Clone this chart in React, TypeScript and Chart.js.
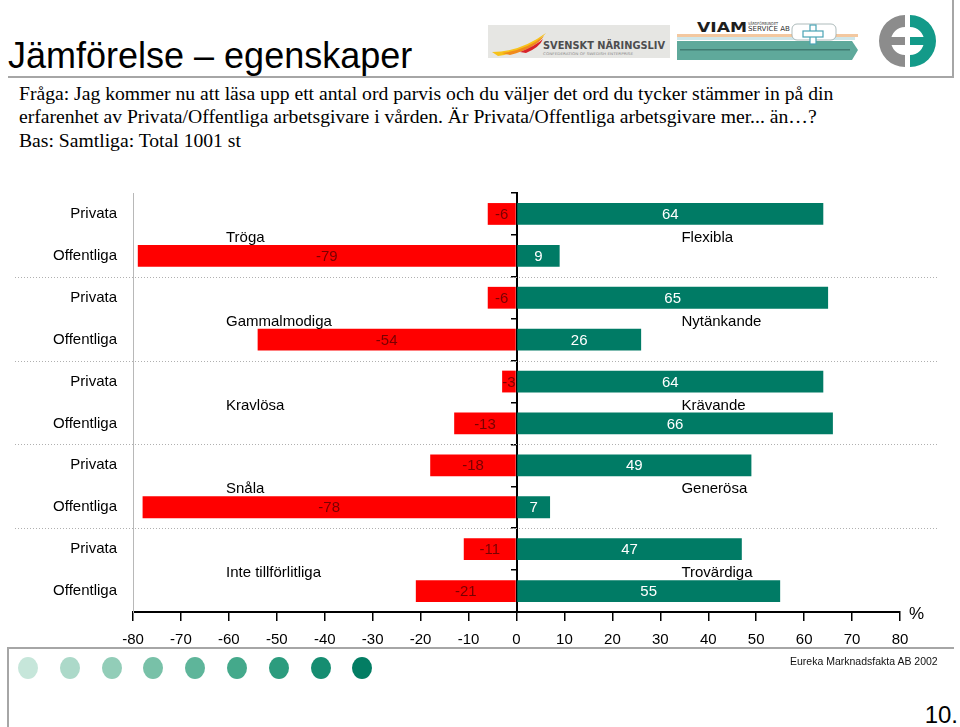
import React, { useEffect, useRef } from "react";
import { Chart, registerables } from "chart.js";

Chart.register(...registerables);

// ---------- data ----------
const categories = [
  "Privata", "Offentliga",
  "Privata", "Offentliga",
  "Privata", "Offentliga",
  "Privata", "Offentliga",
  "Privata", "Offentliga",
];
const negativeValues = [-6, -79, -6, -54, -3, -13, -18, -78, -11, -21];
const positiveValues = [64, 9, 65, 26, 64, 66, 49, 7, 47, 55];
const negativeWords = ["Tröga", "Gammalmodiga", "Kravlösa", "Snåla", "Inte tillförlitliga"];
const positiveWords = ["Flexibla", "Nytänkande", "Krävande", "Generösa", "Trovärdiga"];
const xMin = -80;
const xMax = 80;
const xStep = 10;

const titleText = "Jämförelse – egenskaper";
const questionLines = [
  "Fråga: Jag kommer nu att läsa upp ett antal ord parvis och du väljer det ord du tycker stämmer in på din",
  "erfarenhet av Privata/Offentliga arbetsgivare i vården. Är Privata/Offentliga arbetsgivare mer... än…?",
  "Bas: Samtliga: Total 1001 st",
];
const sourceText = "Eureka Marknadsfakta AB 2002";
const pageNumber = "10.";
const dotColors = ["#c6e6da", "#acd9c9", "#92cdb8", "#78c1a8", "#5eb59a", "#44a98b", "#2c9c7e", "#168d71", "#037d63"];

const RED = "#ff0000";
const GREEN = "#007b65";
const FONT = "'Liberation Sans', Arial, sans-serif";

const overlayPlugin = {
  id: "overlay",
  beforeDatasetsDraw(chart: any) {
    const { ctx } = chart;
    const y = chart.scales.y;
    ctx.save();
    ctx.strokeStyle = "#b0b0b0";
    ctx.lineWidth = 1;
    ctx.setLineDash([1, 2]);
    for (let k = 1; k < negativeWords.length; k++) {
      const py = Math.round((y.getPixelForValue(2 * k - 1) + y.getPixelForValue(2 * k)) / 2) + 0.5;
      ctx.beginPath();
      ctx.moveTo(15, py);
      ctx.lineTo(937, py);
      ctx.stroke();
    }
    ctx.restore();
  },
  afterDatasetsDraw(chart: any) {
    const { ctx } = chart;
    const x = chart.scales.x;
    const y = chart.scales.y;
    ctx.save();
    ctx.font = `15px ${FONT}`;
    ctx.textAlign = "center";
    ctx.textBaseline = "middle";
    chart.data.datasets.forEach((ds: any, di: number) => {
      const meta = chart.getDatasetMeta(di);
      meta.data.forEach((bar: any, i: number) => {
        const p = bar.getProps(["x", "y", "base"], true);
        const v = ds.data[i];
        ctx.fillStyle = v < 0 ? "#7a0000" : "#ffffff";
        ctx.fillText(String(v), (p.x + p.base) / 2, p.y + 1);
      });
    });
    ctx.fillStyle = "#000";
    ctx.textAlign = "left";
    for (let k = 0; k < negativeWords.length; k++) {
      const py = (y.getPixelForValue(2 * k) + y.getPixelForValue(2 * k + 1)) / 2 + 3;
      ctx.fillText(negativeWords[k], x.getPixelForValue(-60.6), py);
      ctx.fillText(positiveWords[k], x.getPixelForValue(34.4), py);
    }
    ctx.restore();
  },
};

function ChartBox() {
  const ref = useRef<HTMLCanvasElement | null>(null);
  useEffect(() => {
    if (!ref.current) return;
    const chart = new Chart(ref.current, {
      type: "bar",
      data: {
        labels: categories,
        datasets: [
          {
            label: "neg",
            data: negativeValues,
            backgroundColor: RED,
            categoryPercentage: 0.52,
            barPercentage: 1,
            stack: "s",
          },
          {
            label: "pos",
            data: positiveValues,
            backgroundColor: GREEN,
            categoryPercentage: 0.52,
            barPercentage: 1,
            stack: "s",
          },
        ],
      },
      options: {
        indexAxis: "y",
        animation: false,
        responsive: true,
        maintainAspectRatio: false,
        layout: { padding: { left: 0, right: 60, top: 13, bottom: 0 } },
        plugins: { legend: { display: false }, tooltip: { enabled: false } },
        scales: {
          x: {
            type: "linear",
            stacked: true,
            min: xMin,
            max: xMax,
            position: "bottom",
            ticks: {
              stepSize: xStep,
              autoSkip: false,
              maxRotation: 0,
              color: "#000",
              padding: 10,
              font: { family: FONT, size: 15 },
            },
            grid: {
              drawOnChartArea: false,
              drawTicks: true,
              tickLength: 9,
              color: "#000",
              lineWidth: 1.5,
            },
            border: { display: true, color: "#000", width: 2 },
            afterFit: (s: any) => {
              s.height = 48;
              s.paddingLeft = 0;
              s.paddingRight = 0;
            },
          },
          y: {
            type: "category",
            stacked: true,
            position: "left",
            offset: true,
            ticks: {
              color: "#000",
              padding: 16,
              font: { family: FONT, size: 15 },
            },
            grid: {
              display: true,
              drawOnChartArea: false,
              drawTicks: false,
              color: "rgba(0,0,0,0)",
              offset: true,
            },
            border: { display: true, color: "#b8b8b8", width: 1, dash: [1, 2] },
            afterFit: (s: any) => {
              s.width = 133;
              s.paddingTop = 0;
              s.paddingBottom = 0;
            },
          },
          y2: {
            type: "category",
            position: { x: 0 },
            offset: true,
            z: 1,
            ticks: { display: false },
            grid: {
              display: true,
              offset: true,
              drawOnChartArea: false,
              drawTicks: true,
              tickLength: 5,
              color: "#000",
              lineWidth: 1.5,
            },
            border: { display: true, color: "#000", width: 2 },
          },
        },
      } as any,
      plugins: [overlayPlugin],
    });
    return () => chart.destroy();
  }, []);
  return (
    <div style={{ position: "absolute", left: 0, top: 180, width: 960, height: 480 }}>
      <canvas ref={ref} />
    </div>
  );
}

function Logos() {
  return (
    <svg style={{ position: "absolute", left: 480, top: 0 }} width={480} height={80}>
      {/* Svenskt Näringsliv */}
      <rect x={8} y={25} width={182} height={33} fill="#e6e6e3" />
      <path d="M12 52 Q40 52 66 33 Q52 50 18 56 Z" fill="#f7c21a" />
      <path d="M22 53 Q46 50 64 36 Q56 48 30 55 Z" fill="#f08a1c" />
      <path d="M40 52 Q55 46 63 39 Q60 47 46 53 Z" fill="#d8232a" />
      <text x={63} y={49} fontFamily="'DejaVu Sans', sans-serif" fontWeight="bold" fontSize={11}
        fill="#4d4d4f" textLength={122} lengthAdjust="spacingAndGlyphs">SVENSKT NÄRINGSLIV</text>
      <text x={63} y={55} fontFamily="'DejaVu Sans', sans-serif" fontSize={3.6} fill="#8a8a8a"
        textLength={90} lengthAdjust="spacingAndGlyphs">CONFEDERATION OF SWEDISH ENTERPRISE</text>
      {/* VIAM */}
      <rect x={197} y={34} width={181} height={3} fill="#f3c8a0" />
      <rect x={197} y={37} width={178} height={3} fill="#cfe6ea" />
      <path d="M197 41 L372 41 L378 50 L372 60 L197 60 Z" fill="#5fa99b" />
      <rect x={200} y={49} width={170} height={1.5} fill="#2d5f57" opacity={0.6} />
      <text x={217} y={32} fontFamily="'DejaVu Sans', sans-serif" fontWeight="bold" fontSize={14}
        fill="#1e1e1e" textLength={50} lengthAdjust="spacingAndGlyphs">VIAM</text>
      <text x={268} y={25} fontFamily="'DejaVu Sans', sans-serif" fontSize={4} fill="#333"
        textLength={30} lengthAdjust="spacingAndGlyphs">VÅRDFÖRBUNDET</text>
      <text x={268} y={31} fontFamily="'DejaVu Sans', sans-serif" fontSize={7} fill="#333"
        textLength={42} lengthAdjust="spacingAndGlyphs">SERVICE AB</text>
      <rect x={312} y={24} width={44} height={16} rx={5} fill="#fff" stroke="#9aa" strokeWidth={0.8} />
      <rect x={330} y={25} width={6} height={19} fill="#fff" stroke="#4aa3b5" strokeWidth={1.2} />
      <rect x={323} y={31} width={20} height={6} fill="#fff" stroke="#4aa3b5" strokeWidth={1.2} />
      {/* EE emblem */}
      <path d="M425 15 A26 26 0 0 0 425 67 L425 55 A14 14 0 0 1 425 27 Z" fill="#8c8c8c" />
      <rect x={410} y={37} width={15} height={8} fill="#8c8c8c" />
      <path d="M430 15 A26 26 0 0 1 430 67 L430 55 A14 14 0 0 0 430 27 Z" fill="#139a89" />
      <rect x={430} y={37} width={16} height={8} fill="#139a89" />
    </svg>
  );
}

export default function App() {
  return (
    <div style={{ position: "fixed", left: 0, top: 0, width: 960, height: 727, background: "#fff", overflow: "hidden" }}>
      <div style={{ position: "absolute", left: 8, top: 38, fontFamily: FONT, fontSize: 36, lineHeight: "36px", color: "#000", whiteSpace: "nowrap" }}>
        {titleText}
      </div>
      <Logos />
      <div style={{ position: "absolute", left: 8, top: 76, width: 946, height: 2, background: "#a6a6a6" }} />
      <div style={{ position: "absolute", left: 952, top: 0, width: 2, height: 78, background: "#a6a6a6" }} />
      <div style={{ position: "absolute", left: 19, top: 82, fontFamily: "'Liberation Serif', 'Times New Roman', serif", fontSize: 19.65, lineHeight: "23.3px", color: "#000", whiteSpace: "nowrap" }}>
        {questionLines.map((l, i) => (
          <div key={i}>{l}</div>
        ))}
      </div>
      <ChartBox />
      <div style={{ position: "absolute", left: 909, top: 604, fontFamily: FONT, fontSize: 17, lineHeight: "20px", color: "#000" }}>%</div>
      <div style={{ position: "absolute", left: 8, top: 647, width: 946, height: 2, background: "#a6a6a6" }} />
      <div style={{ position: "absolute", left: 7, top: 647, width: 2, height: 80, background: "#a6a6a6" }} />
      {dotColors.map((c, i) => (
        <div key={i} style={{ position: "absolute", left: 18 + i * 41.8, top: 657, width: 20, height: 22, borderRadius: "50%", background: c }} />
      ))}
      <div style={{ position: "absolute", left: 790, top: 654, fontFamily: FONT, fontSize: 10.5, lineHeight: "14px", color: "#111", whiteSpace: "nowrap" }}>
        {sourceText}
      </div>
      <div style={{ position: "absolute", right: 2, top: 703, fontFamily: FONT, fontSize: 24, lineHeight: "24px", color: "#000" }}>{pageNumber}</div>
    </div>
  );
}
